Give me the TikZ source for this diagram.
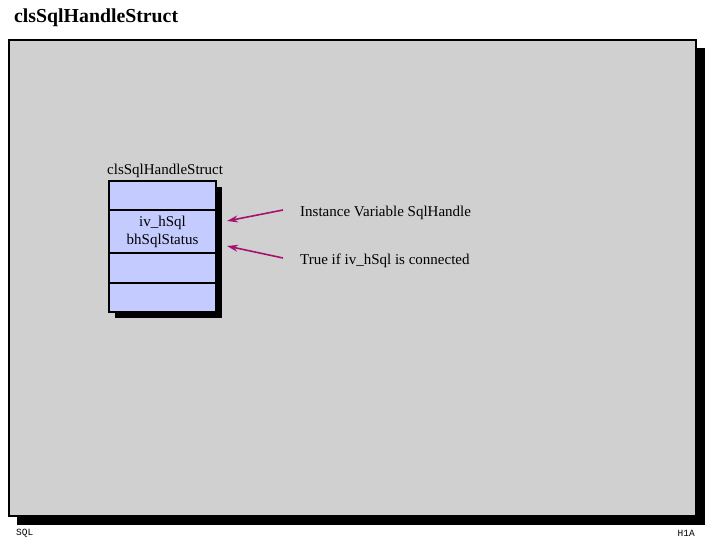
\documentclass[tikz,border=0pt]{standalone}
\usepackage{fontspec}
\setmainfont{Liberation Serif}
\setmonofont{Liberation Mono}
\usetikzlibrary{arrows.meta}

\definecolor{panelgray}{HTML}{D0D0D0}
\definecolor{rowblue}{HTML}{C4CCFF}
\definecolor{arrowred}{HTML}{A8106E}

\tikzset{
  rowbox/.style={draw=black, line width=1.6pt, fill=rowblue, minimum width=107pt, inner sep=0pt, outer sep=0pt},
  note/.style={anchor=west, inner sep=0pt, font=\fontsize{15}{16}\selectfont},
  pointer/.style={-{Stealth[length=11pt,width=7pt]}, arrowred, line width=1.6pt}
}

\begin{document}
\begin{tikzpicture}[x=1pt, y=-1pt]

% page size, 720 x 540
\useasboundingbox (0,0) rectangle (720,540);

% title
\node [anchor=west, inner sep=0pt, font=\fontsize{19.8}{21}\selectfont\bfseries] (title) at (14,18) {clsSqlHandleStruct};

% grey panel with its shadow
\fill [black] (17,48) rectangle (705,525);
\draw [line width=2pt, fill=panelgray] (9,40) rectangle (696,516);

% footer
\node [anchor=west, inner sep=0pt, font=\ttfamily\fontsize{9.5}{10}\selectfont] (lft) at (16,533) {SQL};
\node [anchor=east, inner sep=0pt, font=\ttfamily\fontsize{9.5}{10}\selectfont] (rgt) at (695,533) {H1A};

% the struct, shadow first
\fill [black] (115,187) rectangle (222,318);
\node [rowbox, minimum height=29pt, anchor=north west] (r1) at (109,181) {};
\node [rowbox, minimum height=43pt, anchor=north, align=center, font=\fontsize{15}{18}\selectfont] (r2) at (r1.south) {iv\_hSql\\bhSqlStatus};
\node [rowbox, minimum height=30pt, anchor=north] (r3) at (r2.south) {};
\node [rowbox, minimum height=29pt, anchor=north] (r4) at (r3.south) {};
\node [anchor=south west, inner sep=0pt, font=\fontsize{15}{16}\selectfont] (name) at (107,178) {clsSqlHandleStruct};

% notes and pointers
\node [note] (n1) at (300,213) {Instance Variable SqlHandle};
\node [note] (n2) at (300,261) {True if iv\_hSql is connected};
\coordinate (t1) at (283,210);
\coordinate (h1) at (227,221);
\coordinate (t2) at (283,258);
\coordinate (h2) at (227,246);
\draw [pointer] (t1) -- (h1);
\draw [pointer] (t2) -- (h2);

\end{tikzpicture}
\end{document}
